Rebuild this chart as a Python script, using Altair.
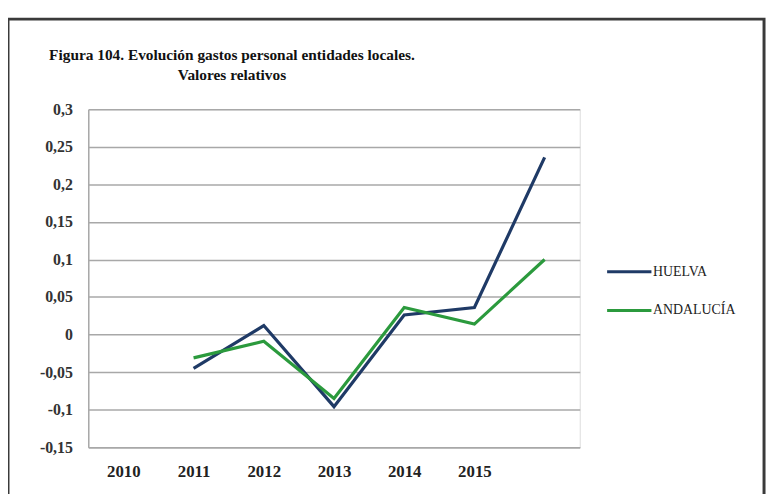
import altair as alt
import pandas as pd

# Data
years = [2011, 2012, 2013, 2014, 2015, 2016]
huelva = [-0.045, 0.012, -0.096, 0.026, 0.036, 0.236]
andalucia = [-0.031, -0.009, -0.085, 0.036, 0.014, 0.100]
series = ["HUELVA", "ANDALUCÍA"]
colors = ["#1f3a66", "#2b9a3d"]
x_ticks = [2010, 2011, 2012, 2013, 2014, 2015]
y_ticks = [-0.15, -0.1, -0.05, 0, 0.05, 0.1, 0.15, 0.2, 0.25, 0.3]
title_lines = ["Figura 104. Evolución gastos personal  entidades  locales.", "Valores relativos"]

df = pd.DataFrame({
    "year": years * 2,
    "value": huelva + andalucia,
    "serie": [series[0]] * len(years) + [series[1]] * len(years),
})

frame = alt.Chart(pd.DataFrame({"a": [0]})).mark_rect(
    fill="white", fillOpacity=0, stroke="#3a3a3a", strokeWidth=3
).encode(
    x=alt.value(-81), x2=alt.value(682), y=alt.value(-91), y2=alt.value(400)
)

grid_color = "#a8a8a8"
font = "Liberation Serif"

lines = alt.Chart(df).mark_line(strokeWidth=3.2).encode(
    x=alt.X(
        "year:Q",
        scale=alt.Scale(domain=[2009.5, 2016.5], nice=False, zero=False),
        axis=alt.Axis(
            values=x_ticks, format="d", title=None, grid=False, ticks=False,
            domainColor=grid_color, domainWidth=1.5, labelFlush=False,
            labelPadding=17, labelFont=font, labelFontSize=17,
            labelFontWeight="bold", labelColor="#222",
        ),
    ),
    y=alt.Y(
        "value:Q",
        scale=alt.Scale(domain=[-0.15, 0.3], nice=False, zero=False),
        axis=alt.Axis(
            values=y_ticks, labelExpr="replace('' + datum.value, '.', ',')",
            title=None, ticks=False, labelPadding=16, gridColor=grid_color,
            gridWidth=1.5, domainColor=grid_color, domainWidth=1.5,
            labelFont=font, labelFontSize=16, labelFontWeight="bold",
            labelColor="#333",
        ),
    ),
    color=alt.Color(
        "serie:N",
        scale=alt.Scale(domain=series, range=colors),
        legend=alt.Legend(
            title=None, orient="none", legendX=522, legendY=140,
            symbolType="stroke", symbolSize=2000, symbolStrokeWidth=3,
            labelFont=font, labelFontSize=14, labelColor="#222",
            labelOffset=0, rowPadding=8, padding=0,
        ),
    ),
    detail="serie:N",
)

chart = alt.layer(frame, lines).properties(
    width=496,
    height=341,
    title=alt.TitleParams(
        text=title_lines, font=font, fontSize=15.5, fontWeight="bold",
        anchor="middle", dx=-103, offset=-66, color="#111", lineHeight=20,
    ),
    autosize=alt.AutoSizeParams(type="none"),
    padding={"left": 81, "top": 100, "right": 190, "bottom": 45},
).configure_view(stroke=None).configure(background="white")

chart.save("out.html", embed_options={"renderer": "svg", "actions": False})
